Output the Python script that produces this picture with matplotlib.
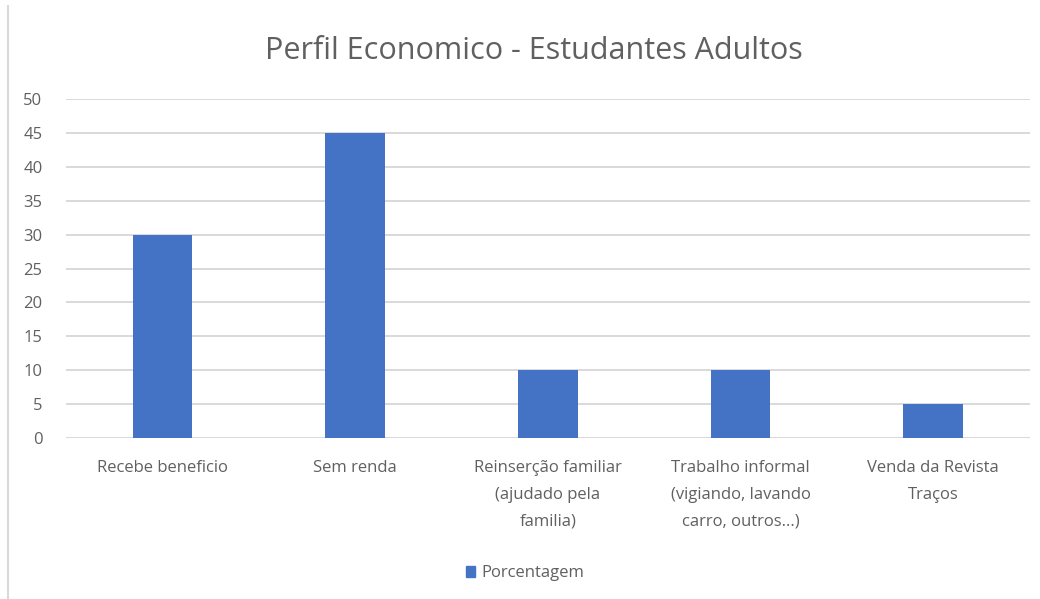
import matplotlib.pyplot as plt
from matplotlib.lines import Line2D
from matplotlib.patches import Patch
import numpy as np

categories = [
    "Recebe beneficio",
    "Sem renda",
    "Reinserção familiar\n(ajudado pela\nfamilia)",
    "Trabalho informal\n(vigiando, lavando\ncarro, outros...)",
    "Venda da Revista\nTraços",
]
porcentagem = [30, 45, 10, 10, 5]
y_ticks = [0, 5, 10, 15, 20, 25, 30, 35, 40, 45, 50]

bar_color = "#4472C4"
text_color = "#606060"
grid_color = "#D9D9D9"

plt.rcParams["font.family"] = ["Open Sans", "DejaVu Sans"]

fig = plt.figure(figsize=(10.4, 5.99), dpi=100)
ax = fig.add_axes([0.0635, 0.2688, 0.9265, 0.5659])

x = np.arange(len(categories))
ax.bar(x, porcentagem, width=0.31, color=bar_color, zorder=3)

ax.set_xlim(-0.5, len(categories) - 0.5)
ax.set_ylim(0, 50)
ax.set_yticks(y_ticks)
ax.set_xticks(x)
ax.set_xticklabels(categories, linespacing=1.9)
ax.tick_params(axis="both", length=0, colors=text_color, labelsize=12)
ax.tick_params(axis="x", pad=16)
ax.tick_params(axis="y", pad=17)
ax.grid(axis="y", color=grid_color, linewidth=1.4, zorder=0)
ax.axhline(0, color=grid_color, linewidth=1.4, zorder=1)
for s in ax.spines.values():
    s.set_visible(False)

fig.text(0.513, 0.915, "Perfil Economico - Estudantes Adultos",
         ha="center", va="center", fontsize=22, color=text_color)

fig.legend(handles=[Patch(color=bar_color, label="Porcentagem")],
           loc="center", bbox_to_anchor=(0.505, 0.043), frameon=False,
           fontsize=12, labelcolor=text_color, handlelength=0.55,
           handleheight=0.7, handletextpad=0.4)

# thin frame line on the left edge
fig.add_artist(Line2D([0.008, 0.008], [0.0, 0.99], transform=fig.transFigure,
                      color=grid_color, linewidth=1.5))

fig.savefig("out.png", dpi=100, facecolor="white")
